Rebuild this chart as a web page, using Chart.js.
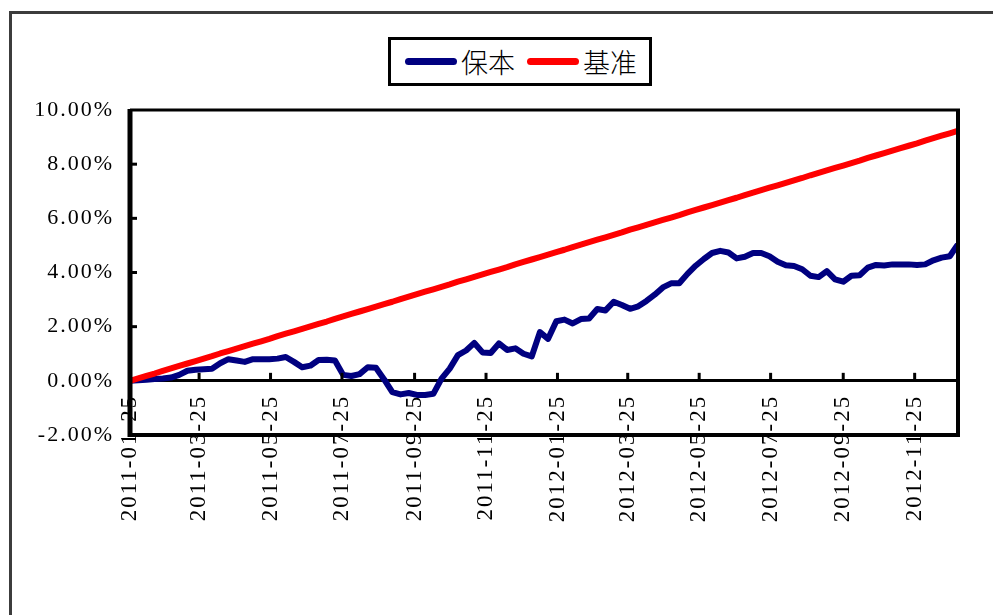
<!DOCTYPE html>
<html>
<head>
<meta charset="utf-8">
<script src="https://cdn.jsdelivr.net/npm/chart.js@4/dist/chart.umd.min.js"></script>
<style>
html,body{margin:0;padding:0;width:993px;height:615px;overflow:hidden;background:#fff;}
#frame{position:absolute;left:9px;top:11px;width:2000px;height:2000px;border-left:3px solid #3c3c3c;border-top:3px solid #3c3c3c;}
#wrap{position:absolute;left:0;top:0;width:993px;height:615px;}
#legend{position:absolute;left:388px;top:37px;width:258px;height:43px;border:3px solid #000;background:#fff;display:flex;align-items:center;font-family:"Noto Sans CJK SC";font-size:27px;font-weight:300;color:#000;line-height:1;}
.sw{display:inline-block;width:52px;height:7px;border-radius:4px;}
</style>
</head>
<body>
<div id="frame"></div>
<div id="wrap"><canvas id="c" width="993" height="615"></canvas></div>
<div id="legend">
  <span class="sw" style="background:#000080;margin-left:14px;"></span><span style="margin-left:4px;">保本</span>
  <span class="sw" style="background:#ff0000;margin-left:12px;"></span><span style="margin-left:4px;">基准</span>
</div>
<script>
// ---- data ----
const dates = [
 "2011-01-25","2011-02-01","2011-02-08","2011-02-15","2011-02-22","2011-03-01","2011-03-08","2011-03-15","2011-03-22","2011-03-29",
 "2011-04-05","2011-04-12","2011-04-19","2011-04-26","2011-05-03","2011-05-10","2011-05-17","2011-05-24","2011-05-31","2011-06-07",
 "2011-06-14","2011-06-21","2011-06-28","2011-07-05","2011-07-12","2011-07-19","2011-07-26","2011-08-02","2011-08-09","2011-08-16",
 "2011-08-23","2011-08-30","2011-09-06","2011-09-13","2011-09-20","2011-09-27","2011-10-04","2011-10-11","2011-10-18","2011-10-25",
 "2011-11-01","2011-11-08","2011-11-15","2011-11-22","2011-11-29","2011-12-06","2011-12-13","2011-12-20","2011-12-27","2012-01-03",
 "2012-01-10","2012-01-17","2012-01-24","2012-01-31","2012-02-07","2012-02-14","2012-02-21","2012-02-28","2012-03-06","2012-03-13",
 "2012-03-20","2012-03-27","2012-04-03","2012-04-10","2012-04-17","2012-04-24","2012-05-01","2012-05-08","2012-05-15","2012-05-22",
 "2012-05-29","2012-06-05","2012-06-12","2012-06-19","2012-06-26","2012-07-03","2012-07-10","2012-07-17","2012-07-24","2012-07-31",
 "2012-08-07","2012-08-14","2012-08-21","2012-08-28","2012-09-04","2012-09-11","2012-09-18","2012-09-25","2012-10-02","2012-10-09",
 "2012-10-16","2012-10-23","2012-10-30","2012-11-06","2012-11-13","2012-11-20","2012-11-27","2012-12-04","2012-12-11","2012-12-18",
 "2012-12-25","2012-12-31"
];
const baoben = [
 0.00,0.02,0.04,0.07,0.09,0.12,0.22,0.37,0.41,0.43,
 0.45,0.65,0.80,0.75,0.70,0.80,0.80,0.80,0.82,0.88,
 0.70,0.50,0.56,0.77,0.78,0.75,0.22,0.18,0.25,0.50,
 0.48,0.05,-0.42,-0.50,-0.45,-0.52,-0.52,-0.48,0.08,0.45,
 0.95,1.12,1.40,1.05,1.03,1.38,1.14,1.20,1.00,0.90,
 1.80,1.55,2.20,2.26,2.12,2.28,2.30,2.65,2.60,2.92,
 2.80,2.66,2.75,2.95,3.18,3.45,3.60,3.60,3.95,4.25,
 4.50,4.72,4.80,4.74,4.52,4.58,4.72,4.72,4.60,4.40,
 4.27,4.24,4.12,3.88,3.83,4.05,3.75,3.66,3.88,3.90,
 4.18,4.28,4.26,4.30,4.30,4.30,4.28,4.30,4.45,4.55,
 4.60,4.98
];
const jizhun = [
 0.00,0.09,0.18,0.27,0.37,0.46,0.55,0.64,0.73,0.82,
 0.91,1.01,1.10,1.19,1.28,1.37,1.46,1.55,1.65,1.74,
 1.83,1.92,2.01,2.10,2.19,2.29,2.38,2.47,2.56,2.65,
 2.74,2.83,2.92,3.02,3.11,3.20,3.29,3.38,3.47,3.56,
 3.66,3.75,3.84,3.93,4.02,4.11,4.20,4.30,4.39,4.48,
 4.57,4.66,4.75,4.84,4.94,5.03,5.12,5.21,5.30,5.39,
 5.48,5.58,5.67,5.76,5.85,5.94,6.03,6.12,6.22,6.31,
 6.40,6.49,6.58,6.67,6.76,6.86,6.95,7.04,7.13,7.22,
 7.31,7.40,7.49,7.59,7.68,7.77,7.86,7.95,8.04,8.13,
 8.23,8.32,8.41,8.50,8.59,8.68,8.77,8.87,8.96,9.05,
 9.14,9.22
];
const tickLabels = ["2011-01-25","2011-03-25","2011-05-25","2011-07-25","2011-09-25","2011-11-25",
 "2012-01-25","2012-03-25","2012-05-25","2012-07-25","2012-09-25","2012-11-25"];
const yTicks = [-2,0,2,4,6,8,10];

// ---- helpers ----
const DAY = 86400000;
function toDay(s){const p=s.split('-').map(Number);return Math.round((Date.UTC(p[0],p[1]-1,p[2])-Date.UTC(2011,0,25))/DAY);}
const tickDays = tickLabels.map(toDay);
const labelByDay = {}; tickLabels.forEach((l,i)=>labelByDay[tickDays[i]]=l);
const lastDay = toDay(dates[dates.length-1]);

const spacing = {
  id:'spacing',
  beforeDraw(chart){ chart.ctx.letterSpacing='2px'; }
};

const frame = {
  id:'frame',
  afterDraw(chart){
    const {ctx, chartArea:a, scales:{x,y}} = chart;
    ctx.save();
    ctx.strokeStyle='#000';
    ctx.lineWidth=3;
    [2,4,6,8].forEach(v=>{const py=y.getPixelForValue(v);ctx.beginPath();ctx.moveTo(a.left,py);ctx.lineTo(a.left+7,py);ctx.stroke();});
    const y0=y.getPixelForValue(0);
    tickDays.forEach(d=>{if(d===0)return;const px=x.getPixelForValue(d);ctx.beginPath();ctx.moveTo(px,y0);ctx.lineTo(px,y0-8);ctx.stroke();});
    ctx.lineWidth=3;
    ctx.beginPath();ctx.moveTo(a.left,a.top);ctx.lineTo(a.right+2,a.top);ctx.stroke();
    ctx.lineWidth=4;
    ctx.beginPath();ctx.moveTo(a.right,a.top);ctx.lineTo(a.right,a.bottom+2);ctx.stroke();
    ctx.beginPath();ctx.moveTo(a.left,a.bottom);ctx.lineTo(a.right+2,a.bottom);ctx.stroke();
    ctx.lineWidth=5;
    ctx.beginPath();ctx.moveTo(a.left,a.top-1);ctx.lineTo(a.left,a.bottom+2);ctx.stroke();
    ctx.restore();
  }
};

new Chart(document.getElementById('c'), {
  type:'line',
  data:{
    datasets:[
      {label:'保本', data:dates.map((d,i)=>({x:toDay(d),y:baoben[i]})), borderColor:'#000080', borderWidth:6, pointRadius:0, tension:0, order:1, borderJoinStyle:'round', borderCapStyle:'round'},
      {label:'基准', data:dates.map((d,i)=>({x:toDay(d),y:jizhun[i]})), borderColor:'#ff0000', borderWidth:6, pointRadius:0, tension:0, order:0, borderJoinStyle:'round', borderCapStyle:'round'}
    ]
  },
  options:{
    responsive:false, animation:false, devicePixelRatio:1,
    layout:{padding:{left:0,top:110,right:35,bottom:180}},
    plugins:{legend:{display:false}, tooltip:{enabled:false}},
    scales:{
      x:{
        type:'linear', position:{y:0}, min:0, max:lastDay+1,
        afterBuildTicks:(s)=>{s.ticks=tickDays.map(v=>({value:v}));},
        grid:{display:false, drawTicks:false},
        border:{display:true, width:3, color:'#000'},
        ticks:{autoSkip:false, maxRotation:90, minRotation:90, padding:14, color:'#000',
               font:{family:'Liberation Serif', size:23}, callback:(v)=>labelByDay[v]}
      },
      y:{
        min:-2, max:10,
        afterFit:(s)=>{s.width=130;},
        afterBuildTicks:(s)=>{s.ticks=yTicks.map(v=>({value:v}));},
        grid:{display:false, drawTicks:false},
        border:{display:false},
        ticks:{padding:16, color:'#000', font:{family:'Liberation Serif', size:22},
               callback:(v)=>Number(v).toFixed(2)+'%'}
      }
    }
  },
  plugins:[spacing, frame]
});
</script>
</body>
</html>
